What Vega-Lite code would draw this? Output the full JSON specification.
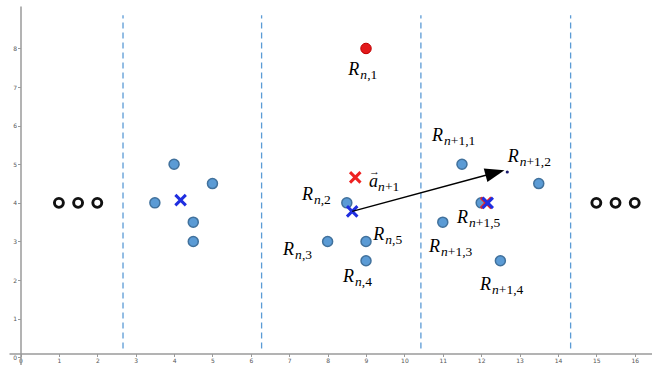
{
  "$schema": "https://vega.github.io/schema/vega-lite/v6.json",
  "width": 643,
  "height": 359,
  "autosize": {"type": "none"},
  "padding": {"left": 9, "top": 6, "right": 0, "bottom": 0},
  "background": "white",
  "config": {"view": {"stroke": null}},
  "datasets": {
    "dashes": [
      {"x": 2.67, "y": 0.23, "y2": 8.86},
      {"x": 6.28, "y": 0.23, "y2": 8.86},
      {"x": 10.43, "y": 0.23, "y2": 8.86},
      {"x": 14.33, "y": 0.23, "y2": 8.86}
    ],
    "blue": [
      {"x": 4, "y": 5}, {"x": 5, "y": 4.5}, {"x": 3.5, "y": 4}, {"x": 4.5, "y": 3.5}, {"x": 4.5, "y": 3},
      {"x": 8.5, "y": 4}, {"x": 8, "y": 3}, {"x": 9, "y": 3}, {"x": 9, "y": 2.5},
      {"x": 11.5, "y": 5}, {"x": 13.5, "y": 4.5}, {"x": 11, "y": 3.5}, {"x": 12.5, "y": 2.5}, {"x": 12, "y": 4}
    ],
    "rings": [
      {"x": 1, "y": 4}, {"x": 1.5, "y": 4}, {"x": 2, "y": 4},
      {"x": 15, "y": 4}, {"x": 15.5, "y": 4}, {"x": 16, "y": 4}
    ],
    "red": [{"x": 9, "y": 8}],
    "dot": [{"x": 12.68, "y": 4.8}],
    "xred": [{"x": 8.72, "y": 4.66}, {"x": 12.13, "y": 4.0}],
    "xblue": [{"x": 4.17, "y": 4.07}, {"x": 8.64, "y": 3.78}, {"x": 12.17, "y": 4.0}],
    "arrow": [{"x": 8.64, "y": 3.78, "x2": 12.36, "y2": 4.78}],
    "head": [{"x": 12.36, "y": 4.78}],
    "labels": [
      {"x": 8.54, "y": 7.31, "main": "R", "n": "n", "rest": ",1"},
      {"x": 7.33, "y": 4.07, "main": "R", "n": "n", "rest": ",2"},
      {"x": 6.84, "y": 2.64, "main": "R", "n": "n", "rest": ",3"},
      {"x": 8.4, "y": 1.94, "main": "R", "n": "n", "rest": ",4"},
      {"x": 9.19, "y": 3.03, "main": "R", "n": "n", "rest": ",5"},
      {"x": 10.72, "y": 5.6, "main": "R", "n": "n", "rest": "+1,1"},
      {"x": 12.69, "y": 5.06, "main": "R", "n": "n", "rest": "+1,2"},
      {"x": 11.37, "y": 3.47, "main": "R", "n": "n", "rest": "+1,5"},
      {"x": 10.64, "y": 2.72, "main": "R", "n": "n", "rest": "+1,3"},
      {"x": 11.97, "y": 1.74, "main": "R", "n": "n", "rest": "+1,4"}
    ],
    "vec": [{"x": 9.08, "y": 4.4, "main": "a", "n": "n", "rest": "+1", "arr": "→"}]
  },
  "encoding": {
    "x": {
      "field": "x", "type": "quantitative",
      "scale": {"domain": [-0.3, 16.45], "nice": false, "zero": false},
      "axis": {
        "title": null, "grid": false, "offset": -11.5, "values": [0,1,2,3,4,5,6,7,8,9,10,11,12,13,14,15,16],
        "domainColor": "#9a9a9a", "domainWidth": 1.5, "tickColor": "#9a9a9a", "tickSize": 3,
        "labelFontSize": 6, "labelColor": "#555", "labelPadding": 1, "labelFont": "DejaVu Sans"
      }
    },
    "y": {
      "field": "y", "type": "quantitative",
      "scale": {"domain": [-0.2, 9.1], "nice": false, "zero": false},
      "axis": {
        "title": null, "grid": false, "offset": -11.5, "values": [0,1,2,3,4,5,6,7,8],
        "domainColor": "#9a9a9a", "domainWidth": 1.5, "tickColor": "#9a9a9a", "tickSize": 3,
        "labelFontSize": 6, "labelColor": "#555", "labelPadding": 1, "labelFont": "DejaVu Sans"
      }
    }
  },
  "layer": [
    {
      "data": {"name": "dashes"},
      "mark": {"type": "rule", "color": "#5b9bd5", "strokeWidth": 1.3, "strokeDash": [6, 4]},
      "encoding": {"y2": {"field": "y2"}}
    },
    {
      "data": {"name": "rings"},
      "mark": {"type": "point", "shape": "circle", "filled": false, "stroke": "#111", "strokeWidth": 2.9, "size": 80, "opacity": 1}
    },
    {
      "data": {"name": "blue"},
      "mark": {"type": "point", "shape": "circle", "filled": true, "fill": "#5b9bd5", "stroke": "#41719c", "strokeWidth": 1.5, "size": 100, "opacity": 1}
    },
    {
      "data": {"name": "red"},
      "mark": {"type": "point", "shape": "circle", "filled": true, "fill": "#e31a1c", "stroke": "#c00000", "strokeWidth": 1, "size": 110, "opacity": 1}
    },
    {
      "data": {"name": "dot"},
      "mark": {"type": "point", "shape": "circle", "filled": true, "fill": "#1a1a6e", "size": 10, "opacity": 1}
    },
    {
      "data": {"name": "xred"},
      "mark": {"type": "point", "shape": "M-1,-1L1,1M-1,1L1,-1", "filled": false, "stroke": "#ee2222", "strokeWidth": 3, "size": 110, "opacity": 1}
    },
    {
      "data": {"name": "xblue"},
      "mark": {"type": "point", "shape": "M-1,-1L1,1M-1,1L1,-1", "filled": false, "stroke": "#1f2ee0", "strokeWidth": 3, "size": 110, "opacity": 1}
    },
    {
      "data": {"name": "arrow"},
      "mark": {"type": "rule", "color": "#000", "strokeWidth": 1.5},
      "encoding": {"x2": {"field": "x2"}, "y2": {"field": "y2"}}
    },
    {
      "data": {"name": "head"},
      "mark": {"type": "point", "shape": "M1,0L-1,-0.72L-1,0.72Z", "filled": true, "fill": "#000", "size": 380, "angle": 345, "opacity": 1}
    },
    {
      "data": {"name": "labels"},
      "mark": {"type": "text", "font": "Liberation Serif", "fontStyle": "italic", "fontSize": 18, "align": "left", "baseline": "alphabetic", "color": "#000"},
      "encoding": {"text": {"field": "main"}}
    },
    {
      "data": {"name": "labels"},
      "mark": {"type": "text", "font": "Liberation Serif", "fontStyle": "italic", "fontSize": 13.5, "align": "left", "baseline": "alphabetic", "dx": 12, "dy": 4, "color": "#000"},
      "encoding": {"text": {"field": "n"}}
    },
    {
      "data": {"name": "labels"},
      "mark": {"type": "text", "font": "Liberation Serif", "fontSize": 13.5, "align": "left", "baseline": "alphabetic", "dx": 18.8, "dy": 4, "color": "#000"},
      "encoding": {"text": {"field": "rest"}}
    },
    {
      "data": {"name": "vec"},
      "mark": {"type": "text", "font": "Liberation Serif", "fontStyle": "italic", "fontSize": 18, "align": "left", "baseline": "alphabetic", "color": "#000"},
      "encoding": {"text": {"field": "main"}}
    },
    {
      "data": {"name": "vec"},
      "mark": {"type": "text", "font": "Liberation Serif", "fontSize": 11, "align": "left", "baseline": "alphabetic", "dx": 0, "dy": -12, "color": "#000"},
      "encoding": {"text": {"field": "arr"}}
    },
    {
      "data": {"name": "vec"},
      "mark": {"type": "text", "font": "Liberation Serif", "fontStyle": "italic", "fontSize": 13.5, "align": "left", "baseline": "alphabetic", "dx": 9, "dy": 4, "color": "#000"},
      "encoding": {"text": {"field": "n"}}
    },
    {
      "data": {"name": "vec"},
      "mark": {"type": "text", "font": "Liberation Serif", "fontSize": 13.5, "align": "left", "baseline": "alphabetic", "dx": 15.8, "dy": 4, "color": "#000"},
      "encoding": {"text": {"field": "rest"}}
    }
  ]
}
